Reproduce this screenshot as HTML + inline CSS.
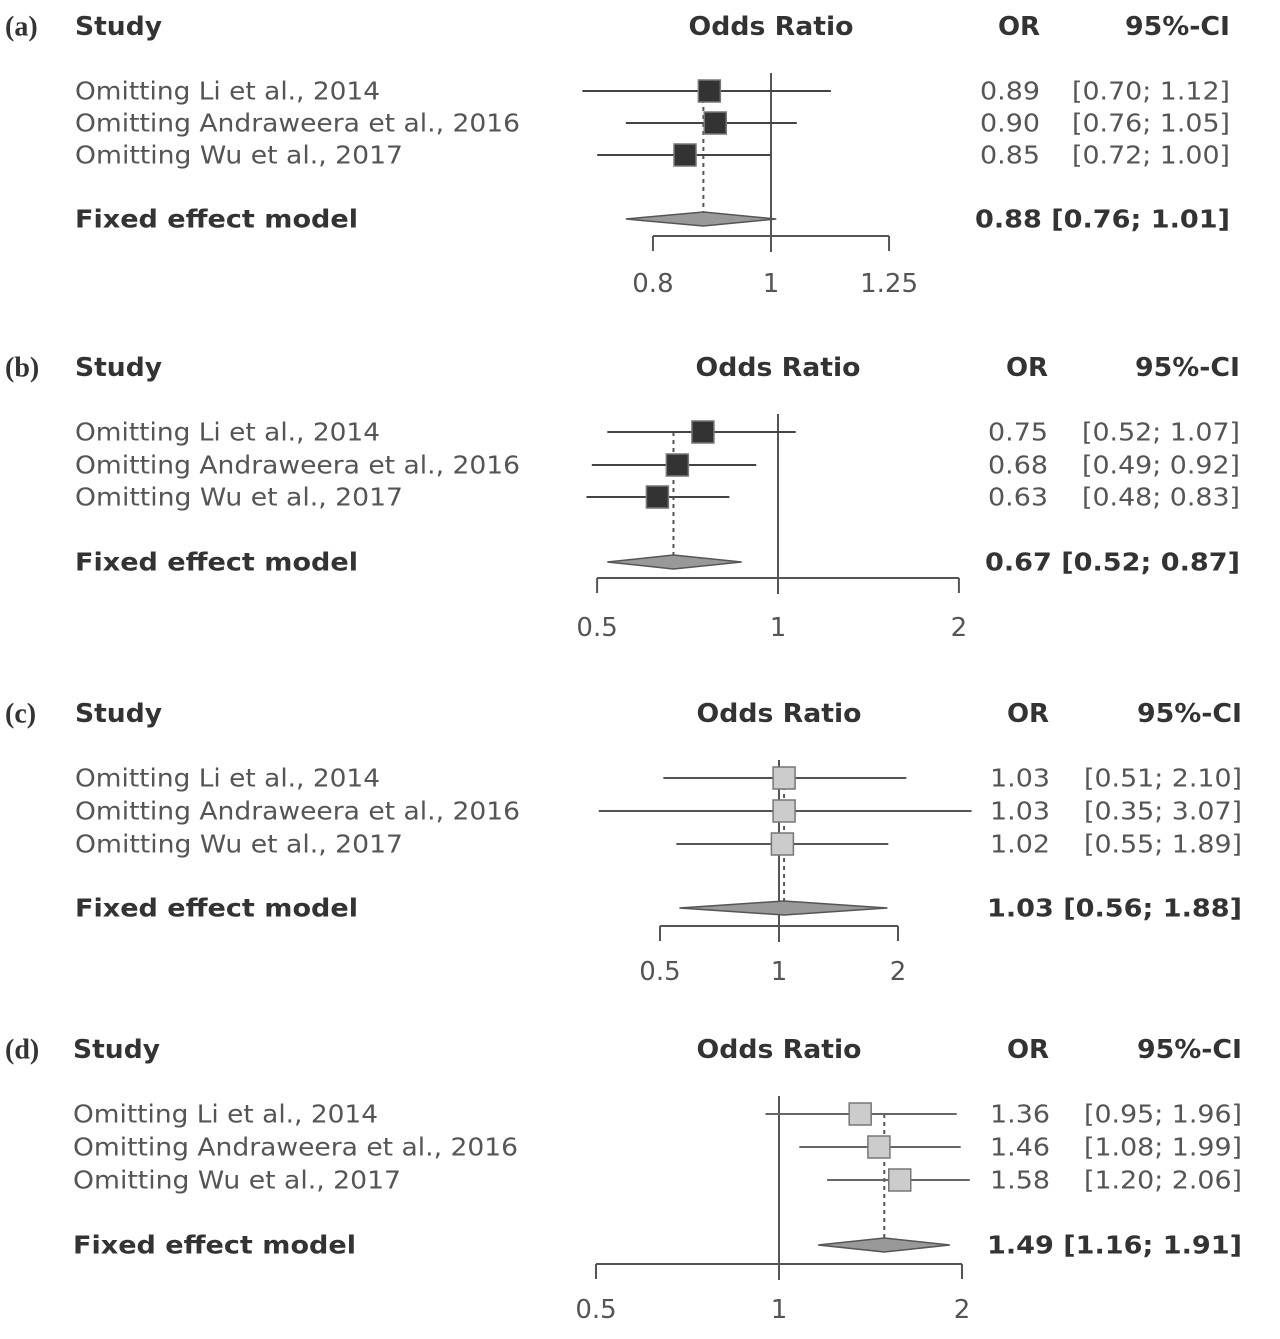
<!DOCTYPE html>
<html><head><meta charset="utf-8"><style>
html,body{margin:0;padding:0;background:#fff;}
</style></head><body>
<svg id="chart" width="1280" height="1334" viewBox="0 0 1280 1334" xmlns="http://www.w3.org/2000/svg" font-family="DejaVu Sans, Liberation Sans, sans-serif">
</svg>
<script>
const studies = ["Omitting Li et al., 2014","Omitting Andraweera et al., 2016","Omitting Wu et al., 2017"];
const panelLetters = ["(a)","(b)","(c)","(d)"];
const orA = [0.89,0.90,0.85], lowA = [0.70,0.76,0.72], upA = [1.12,1.05,1.00];
const orB = [0.75,0.68,0.63], lowB = [0.52,0.49,0.48], upB = [1.07,0.92,0.83];
const orC = [1.03,1.03,1.02], lowC = [0.51,0.35,0.55], upC = [2.10,3.07,1.89];
const orD = [1.36,1.46,1.58], lowD = [0.95,1.08,1.20], upD = [1.96,1.99,2.06];
const fixedA = [0.88,0.76,1.01], fixedB = [0.67,0.52,0.87], fixedC = [1.03,0.56,1.88], fixedD = [1.49,1.16,1.91];
const ticksA = [0.8,1,1.25], ticksB = [0.5,1,2], ticksC = [0.5,1,2], ticksD = [0.5,1,2];
const tickLabelsA = ["0.8","1","1.25"], tickLabelsB = ["0.5","1","2"], tickLabelsC = ["0.5","1","2"], tickLabelsD = ["0.5","1","2"];

const svg = document.getElementById('chart');
const NS = 'http://www.w3.org/2000/svg';
function mk(tag, attrs, parent){const e=document.createElementNS(NS,tag);for(const k in attrs)e.setAttribute(k,attrs[k]);(parent||svg).appendChild(e);return e;}
function fmt(v){return v.toFixed(2);}

const layouts = [
 {top:27, x1:771, ppl:529, rows:[91,123,155], fy:219, axisY:236, tickLblY:284, labX:75, orR:1040, ciR:1230, orH:1019, fill:'#333', stroke:'#444', clip:[560,960]},
 {top:368, x1:778, ppl:261, rows:[432,465,497], fy:562, axisY:578, tickLblY:628, labX:75, orR:1048, ciR:1240, orH:1027, fill:'#333', stroke:'#444', clip:[560,980]},
 {top:714, x1:779, ppl:171.7, rows:[778,811,844], fy:908, axisY:926, tickLblY:972, labX:75, orR:1050, ciR:1242, orH:1028, fill:'#ccc', stroke:'#555', clip:[598,972]},
 {top:1050, x1:779, ppl:264, rows:[1114,1147,1180], fy:1245, axisY:1264, tickLblY:1310, labX:73, orR:1050, ciR:1242, orH:1028, fill:'#ccc', stroke:'#666', clip:[560,975]}
];
const data = [[orA,lowA,upA,fixedA,ticksA,tickLabelsA],[orB,lowB,upB,fixedB,ticksB,tickLabelsB],[orC,lowC,upC,fixedC,ticksC,tickLabelsC],[orD,lowD,upD,fixedD,ticksD,tickLabelsD]];

layouts.forEach((L,p)=>{
  const [or,lo,up,fx,ticks,tl] = data[p];
  const X = v => Math.max(L.clip[0], Math.min(L.clip[1], L.x1 + L.ppl*Math.log(v)));
  const g = mk('g',{});
  
  
  let t;
  t = mk('text',{x:5,y:L.top,'font-family':'Liberation Serif, serif','font-size':28,'font-weight':'bold',fill:'#333','dominant-baseline':'central'},g); t.textContent=panelLetters[p];
   
  t = mk('text',{x:L.labX,y:L.top,'font-size':26,'font-weight':'bold',fill:'#333','dominant-baseline':'central',textLength:87,lengthAdjust:'spacingAndGlyphs'},g); t.textContent='Study';
   
  t = mk('text',{x:L.x1,y:L.top,'font-size':26,'font-weight':'bold',fill:'#333','text-anchor':'middle','dominant-baseline':'central',textLength:165,lengthAdjust:'spacingAndGlyphs'},g); t.textContent='Odds Ratio';
   
  t = mk('text',{x:L.orH,y:L.top,'font-size':26,'font-weight':'bold',fill:'#333','text-anchor':'middle','dominant-baseline':'central'},g); t.textContent='OR';
   
  t = mk('text',{x:L.ciR,y:L.top,'font-size':26,'font-weight':'bold',fill:'#333','text-anchor':'end','dominant-baseline':'central',textLength:105,lengthAdjust:'spacingAndGlyphs'},g); t.textContent='95%-CI';
   

  let l = mk('line',{x1:X(1),x2:X(1),y1:L.top+46,y2:L.axisY+16,stroke:'#555','stroke-width':2},g);
   
  l = mk('line',{x1:X(fx[0]),x2:X(fx[0]),y1:L.rows[0],y2:L.fy,stroke:'#555','stroke-width':2,'stroke-dasharray':'4,4'},g);
   

  studies.forEach((s,i)=>{
    const y=L.rows[i];
    let tx = mk('text',{x:L.labX,y:y,'font-size':25,fill:'#555','dominant-baseline':'central',textLength:[305,445,328][i],lengthAdjust:'spacingAndGlyphs'},g); tx.textContent=s;
     
    let ln = mk('line',{x1:X(lo[i]),x2:X(up[i]),y1:y,y2:y,stroke:L.stroke,'stroke-width':2},g);
     
    let sq = mk('rect',{x:X(or[i])-11,y:y-11,width:22,height:22,fill:L.fill,stroke:'#777','stroke-width':1.5},g);
     
    tx = mk('text',{x:L.orR,y:y,'font-size':25,fill:'#555','text-anchor':'end','dominant-baseline':'central',textLength:60,lengthAdjust:'spacingAndGlyphs'},g); tx.textContent=fmt(or[i]);
     
    tx = mk('text',{x:L.ciR,y:y,'font-size':25,fill:'#555','text-anchor':'end','dominant-baseline':'central',textLength:158,lengthAdjust:'spacingAndGlyphs'},g); tx.textContent='['+fmt(lo[i])+'; '+fmt(up[i])+']';
     
  });
  t = mk('text',{x:L.labX,y:L.fy,'font-size':25,'font-weight':'bold',fill:'#333','dominant-baseline':'central',textLength:283,lengthAdjust:'spacingAndGlyphs'},g); t.textContent='Fixed effect model';
   
  const d = mk('polygon',{points:`${X(fx[1])},${L.fy} ${X(fx[0])},${L.fy-7} ${X(fx[2])},${L.fy} ${X(fx[0])},${L.fy+7}`,fill:'#999',stroke:'#555','stroke-width':1.5},g);
   
  t = mk('text',{x:L.ciR,y:L.fy,'font-size':25,'font-weight':'bold',fill:'#333','text-anchor':'end','dominant-baseline':'central',textLength:255,lengthAdjust:'spacingAndGlyphs'},g); t.textContent=fmt(fx[0])+' ['+fmt(fx[1])+'; '+fmt(fx[2])+']';
   
  const ax = mk('line',{x1:X(ticks[0]),x2:X(ticks[ticks.length-1]),y1:L.axisY,y2:L.axisY,stroke:'#555','stroke-width':2},g);
   
  ticks.forEach((v,i)=>{
    const tk = mk('line',{x1:X(v),x2:X(v),y1:L.axisY,y2:L.axisY+15,stroke:'#555','stroke-width':2},g);
     
    const tt = mk('text',{x:X(v),y:L.tickLblY,'font-size':26,fill:'#555','text-anchor':'middle','dominant-baseline':'central'},g); tt.textContent=tl[i];
     
  });
});
</script>
</body></html>
